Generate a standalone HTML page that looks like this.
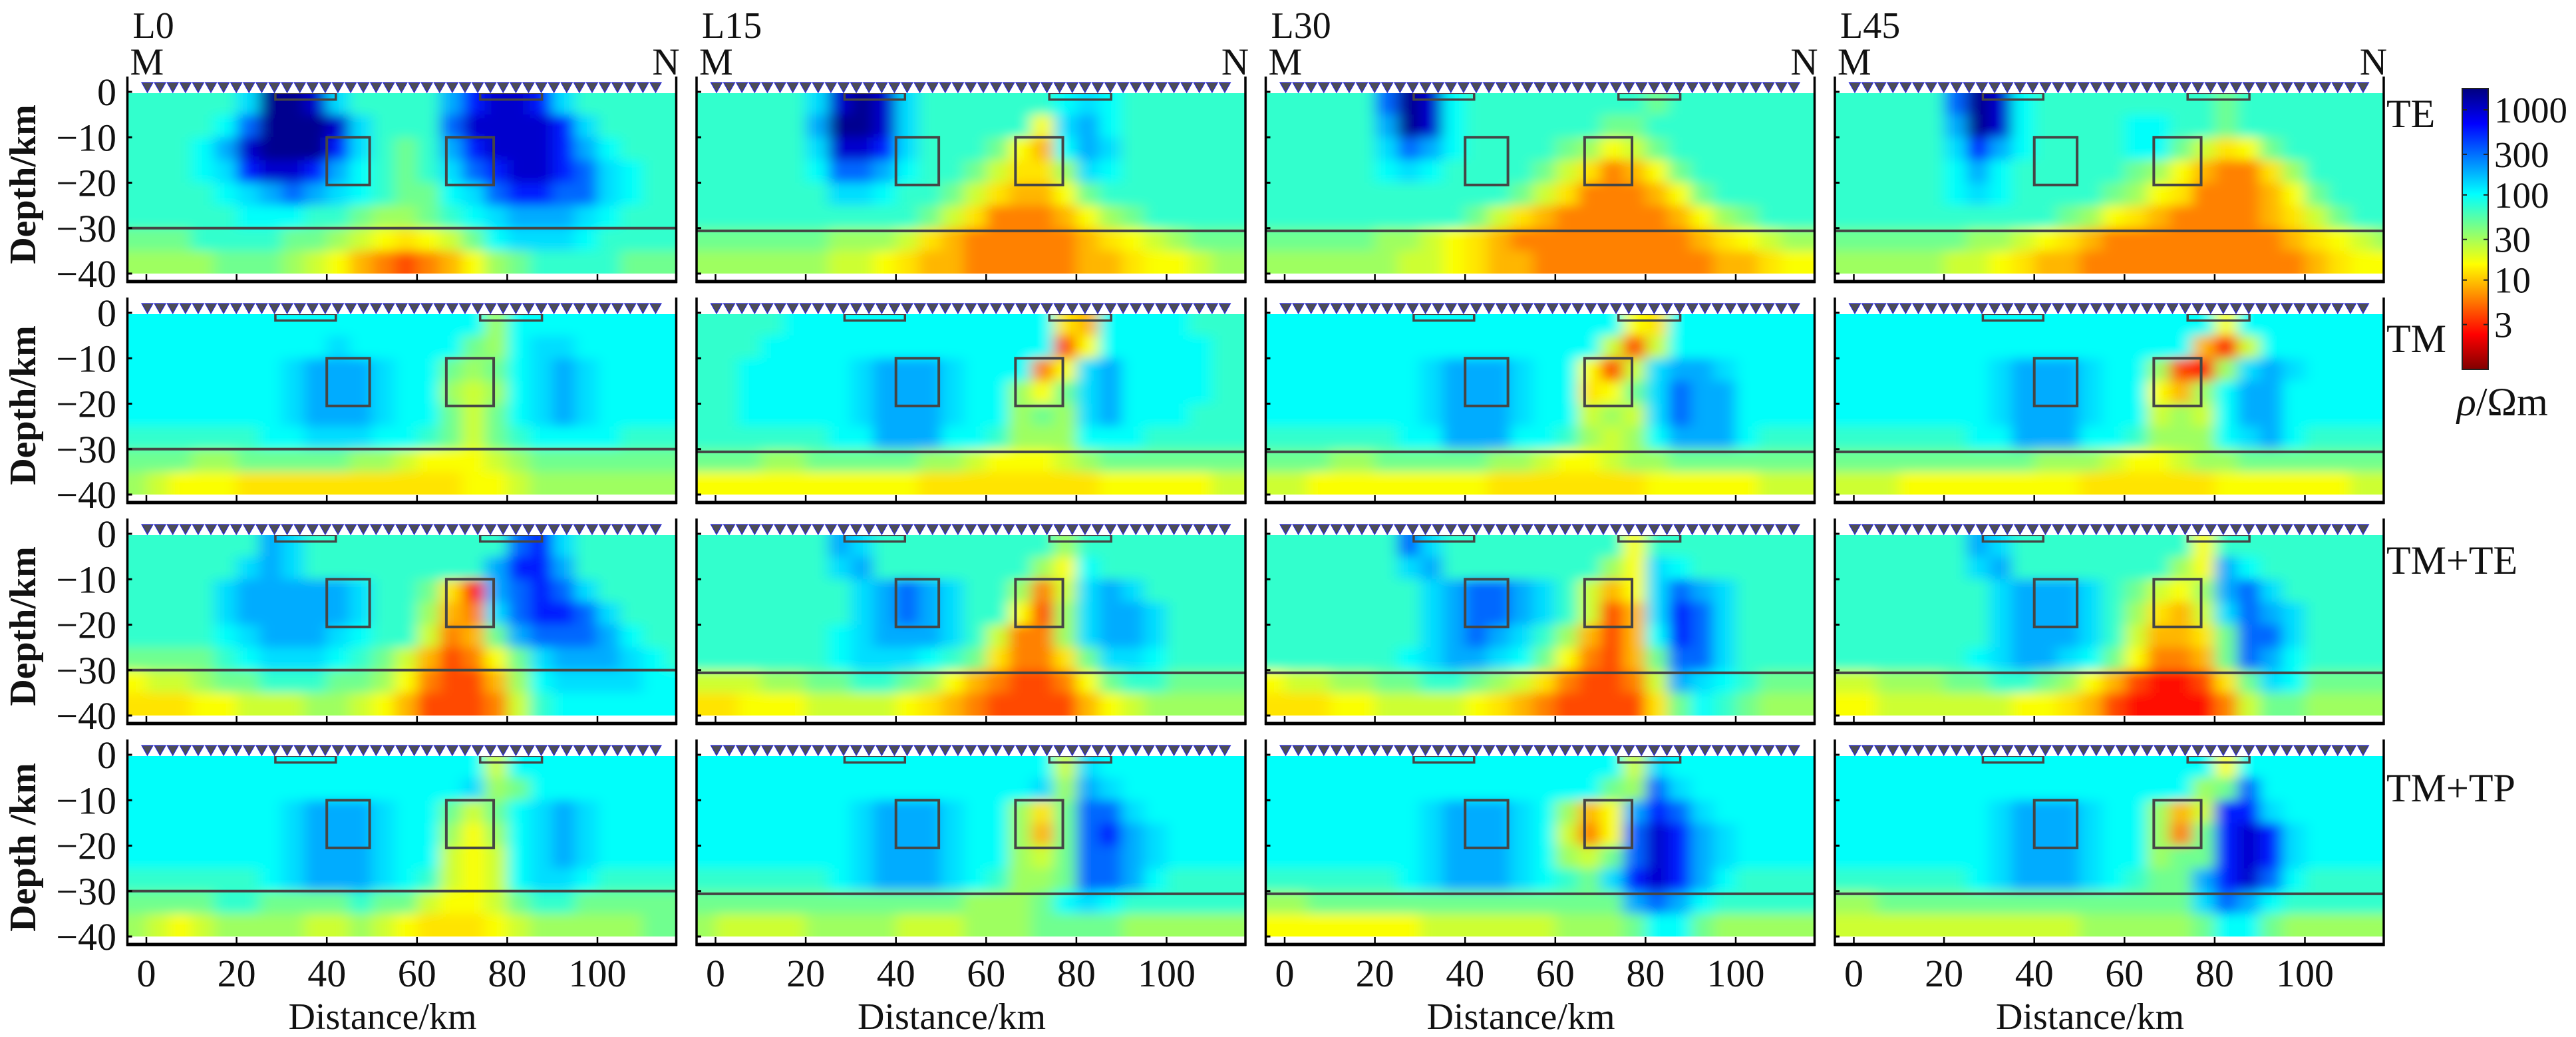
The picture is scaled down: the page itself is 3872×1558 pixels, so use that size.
<!DOCTYPE html>
<html>
<head>
<meta charset="utf-8">
<style>
  html,body{margin:0;padding:0;background:#fff;}
  svg{display:block;}
  text{font-family:"Liberation Serif","DejaVu Serif",serif;fill:#111;}
</style>
</head>
<body>
<svg id="fig" xmlns="http://www.w3.org/2000/svg" width="3872" height="1558" viewBox="0 0 3872 1558">
  <defs id="defs"></defs>
  <g id="panels"></g>
  <g id="labels"></g>
  <g id="cbar"></g>
</svg>
<script>
// ---- level code -> log10(resistivity) ----
const levelCodes = "0123456789abcdefgh";
const levelLog = [0.15,0.4,0.6,0.78,0.95,1.1,1.2,1.35,1.5,1.65,1.85,2.0,2.12,2.28,2.5,2.75,3.0,3.2];
// cell left edges (km) and cell top depths (km)
const cellXKm = [-5,0,5,10,15,20,25,30,35,40,45,50,55,60,65,70,75,80,85,90,95,100,105,110,115];
const cellDepthKm = [0,5,10,15,20,25,30,35];
const xTickVals = [0,20,40,60,80,100];
const yTickVals = [0,10,20,30,40];
const yTickLabels = ["0","\u221210","\u221220","\u221230","\u221240"];
const colTitles = ["L0","L15","L30","L45"];
const rowTitles = ["TE","TM","TM+TE","TM+TP"];
const cbarTicks = [3,2.477,2,1.477,1,0.477];
const cbarTickLabels = ["1000","300","100","30","10","3"];

// ---- panel data (rows = depth 0-40 km, 5 km each; chars = 25 columns, 5 km each) ----
const L0_TE = [
"aaaaachhgcaaaadfggfcaaaaa",
"aaaabehhhgcaaaeggggfcaaaa",
"aaabdghhhfca9adfgggfdbaaa",
"aaabcfggfdba9acefggfecbaa",
"aaaabcdedcba99bceffeecbaa",
"aaaaabbbaa9889abcdddcbaaa",
"999aaaa998765679bcccbaaaa",
"888899987643234689aaaa999"
];
const L15_TE = [
"aaaaacghgcaaaaaabcbaaaaaa",
"aaaaadhhgcaaaaa6cdbaaaaaa",
"aaaaacggfcaaa964bdcaaaaaa",
"aaaaabeedbaa97558cbaaaaaa",
"aaaaaaccbaa9754469aaaaaaa",
"aaaaaaaaaa9753334689aaaaa",
"9999998887543333345678999",
"8888887765443333344566788"
];
const L30_TE = [
"aaaaaehgbaaaaaaaa9aaaaaaa",
"aaaaadhgbaaaaaa99aaaaaaaa",
"aaaaacedbaaaa98679aaaaaaa",
"aaaaabcbaaaa9753469aaaaaa",
"aaaaaaaaaaa975333469aaaaa",
"aaaaaaaaa9754333334689aaa",
"9999988765433333333456788",
"8888887765443333333344566"
];
const L45_TE = [
"aaaaaehgbaaaaaaaa9aaaaaaa",
"aaaaadhgbaaaabbaa9aaaaaaa",
"aaaaacfdbaaaabb97569aaaaa",
"aaaaabdbaaaaa98643358aaaa",
"aaaaabcbaaaa9865333469aaa",
"aaaaaaaaaa9865433334579aa",
"9999998876543333333345678",
"8888877654433333333334566"
];
const L0_TM = [
"bbbbbbbbbbbbbbbb8bbbbbbbb",
"bbbbbbbbbcbbbbb98bccbbbbb",
"bbbbbbbcdddcbb989bcdcbbbb",
"bbbbbbbcdddcbb878bcdcbbbb",
"bbbbbbbcdddcbb979bcdcbbbb",
"aaaaaabbcccbba979abbbbaaa",
"9998899999887666789999999",
"8766655555555556678888888"
];
const L15_TM = [
"aaaabbbbbbbbbbbb54bbbbaaa",
"aaabbbbbbbbbbbbb26bbbbbaa",
"aabbbbbcdddcbbb36cdbbbbaa",
"aabbbbbcdddcbb869cdbbbbaa",
"aabbbbbcdddcbb898cdbbbaaa",
"aaaaaabbdddbba888bbbaaaaa",
"9998899999887666789999999",
"6666666666555555556666677"
];
const L30_TM = [
"bbbbbbbbbbbbbbbb65bbbbbbb",
"bbbbbbbbbbbbbbb727bbbbbbb",
"bbbbbbbcdddcbb627cddcbbbb",
"bbbbbbbcdddcbb569ceddbbbb",
"bbbbbbbcdddcbb787ceddbbbb",
"aaaaaabbdddbba878bdddbaaa",
"9998899999887667889999999",
"7766666666555555566666777"
];
const L45_TM = [
"bbbbbbbbbbbbbbbbb6bbbbbbb",
"bbbbbbbbbbbbbbbb417bbbbbb",
"bbbbbbbcdddcbb8218cdcbbbb",
"bbbbbbbcdddcbb648bddbbbbb",
"bbbbbbbcdddcbb787bddbbbbb",
"aaaaaabbdddbba888bcdbaaaa",
"9999999998887667889999999",
"7776666666655555566666677"
];
const L0_TMTE = [
"aaaaaadcaaaaaaaaaefcaaaaa",
"aaaaacdcaaaaaaaadffdaaaaa",
"aaaacdddddcaa951defecaaaa",
"aaaacdddddcaa843ceffecaaa",
"aaaabcdddcbaa7349deeedbaa",
"9999abcccba9742369cdddcba",
"677899aaa998632248bccccbb",
"555667778876422237abbbbbb"
];
const L15_TMTE = [
"aaaaaadcaaaaaaaa8aaaaaaaa",
"aaaaaacdaaaaaaa86baaaaaaa",
"aaaaaaacdedcaa837cdcaaaaa",
"aaaaaaacdedcaa628cddcaaaa",
"aaaaaabcdddca7338cddcaaaa",
"aaaaaabcccba953359ccbaaaa",
"7778899aa9864322369aa9999",
"5566677776543222246788888"
];
const L30_TMTE = [
"aaaaaaecaaaaaaaa6aaaaaaaa",
"aaaaaacdaaaaaaa86cbaaaaaa",
"aaaaaaacdeedca746cedcaaaa",
"aaaaaaacdeedca724cfecaaaa",
"aaaaaaacdedca8424bfecaaaa",
"aaaaaabcddcb963249eecaaaa",
"6778899aa987532237dcba999",
"5556677776543222259ba9888"
];
const L45_TMTE = [
"aaaaaadcaaaaaaaa6aaaaaaaa",
"aaaaaacdaaaaaaa86dbaaaaaa",
"aaaaaaacdddca9768decaaaaa",
"aaaaaaacdddca8547cedcaaaa",
"aaaaaaacdddca74459eecaaaa",
"aaaaaabcddcb963349edbaaaa",
"7788899aa9864211259cb9999",
"6677777766542111137998888"
];
const L0_TMTP = [
"bbbbbbbbbbbbbbbb7bbbbbbbb",
"bbbbbbbbbbbbbbbc89bbbbbbb",
"bbbbbbbcdddcbb979bcdcbbbb",
"bbbbbbbcdddcbb868bcdcbbbb",
"bbbbbbbcdddcbb767bcdcbbbb",
"aaaaaabcdddcba767bccbaaaa",
"9999aa9999a9976679aa99999",
"8767888877876555678888899"
];
const L15_TMTP = [
"bbbbbbbbbbbbbbbb7cbbbbbbb",
"bbbbbbbbbbbbbbbc8dcbbbbbb",
"bbbbbbbcdddcbb859eecbbbbb",
"bbbbbbbcdddcbb849efdcbbbb",
"bbbbbbbcdddcbb879eedcbbbb",
"aaaaaabcdddcba889eedbaaaa",
"9999999999998889bcbaaaaaa",
"8777788887778889999888888"
];
const L30_TMTP = [
"bbbbbbbbbbbbbbbb7cbbbbbbb",
"bbbbbbbbbbbbbbb98ecbbbbbb",
"bbbbbbbcdddcb846dfecbbbbb",
"bbbbbbbcdddcb736egfdcbbbb",
"bbbbbbbcdddcb879egfdcbbbb",
"aaaaaabcdddcba9cfgfdbaaaa",
"8899999999999999dedbaaaaa",
"66666667777778889bb988888"
];
const L45_TMTP = [
"bbbbbbbbbbbbbbbbb6bbbbbbb",
"bbbbbbbbbbbbbbbb89ebbbbbb",
"bbbbbbbcdddcbb847ffcbbbbb",
"bbbbbbbcdddcbb839fgfcbbbb",
"bbbbbbbcdddcbb899fgfcbbbb",
"aaaaaabcdddcba99dfgebaaaa",
"8899999999999999cedbaaaaa",
"77777777777888889bb988888"
];
const PANELS = [
  [L0_TE, L15_TE, L30_TE, L45_TE],
  [L0_TM, L15_TM, L30_TM, L45_TM],
  [L0_TMTE, L15_TMTE, L30_TMTE, L45_TMTE],
  [L0_TMTP, L15_TMTP, L30_TMTP, L45_TMTP]
];

// ---- helpers ----
const NS = "http://www.w3.org/2000/svg";
function mk(tag, attrs, parent){
  const e = document.createElementNS(NS, tag);
  for (const k in attrs) e.setAttribute(k, attrs[k]);
  if (parent) parent.appendChild(e);
  return e;
}
function clamp(v){ return Math.max(0, Math.min(1, v)); }
function jetColor(logv){
  const t = clamp((3.25 - logv) / 3.3);
  const r = clamp(1.5 - Math.abs(4*t - 3));
  const g = clamp(1.5 - Math.abs(4*t - 2));
  const b = clamp(1.5 - Math.abs(4*t - 1));
  return "rgb(" + Math.round(r*255) + "," + Math.round(g*255) + "," + Math.round(b*255) + ")";
}
function codeLog(ch){
  const i = levelCodes.indexOf(ch);
  return levelLog[i < 0 ? 10 : i];
}

const defs = document.getElementById("defs");
const panelsG = document.getElementById("panels");
const labelsG = document.getElementById("labels");
const cbarG = document.getElementById("cbar");

const blur = mk("filter", {id:"smooth", x:"-10%", y:"-10%", width:"120%", height:"120%"}, defs);
mk("feGaussianBlur", {stdDeviation:"11 8"}, blur);

const COL_DX = 855.5, ROW_DY = 332;
const SX = 6.78, SY = 6.825;
const PANEL_W = 825;

for (let r = 0; r < 4; r++) {
  for (let c = 0; c < 4; c++) {
    const data = PANELS[r][c];
    const axL = 191.5 + COL_DX*c;
    const axR = axL + PANEL_W;
    const x0 = 220 + COL_DX*c;
    const y0 = 138 + ROW_DY*r;
    const xs = km => x0 + km*SX;
    const ys = d => y0 + d*SY;
    const dataTop = y0 + 2, dataBot = ys(40);

    const g = mk("g", {}, panelsG);
    
    

    const cpId = "clip" + r + "_" + c;
    const cp = mk("clipPath", {id: cpId}, defs);
    mk("rect", {x: axL, y: dataTop, width: PANEL_W, height: dataBot - dataTop}, cp);

    const clipG = mk("g", {"clip-path": "url(#" + cpId + ")"}, g);
    const heat = mk("g", {filter: "url(#smooth)"}, clipG);
    
    
    for (let i = 0; i < cellDepthKm.length; i++) {
      const row = data[i];
      let dTop = cellDepthKm[i], dBot = dTop + 5;
      if (i === 0) dTop = -8;
      if (i === cellDepthKm.length - 1) dBot = 48;
      for (let j = 0; j < cellXKm.length; j++) {
        let kL = cellXKm[j], kR = kL + 5;
        if (j === 0) kL = -20;
        if (j === cellXKm.length - 1) kR = 135;
        const cell = mk("rect", {
          x: xs(kL), y: ys(dTop), width: (xs(kR) - xs(kL)) + 0.6, height: (ys(dBot) - ys(dTop)) + 0.6,
          fill: jetColor(codeLog(row[j]))
        }, heat);
        
        
      }
    }
    // interface line
    const lineD = c === 0 ? 30 : 30.6;
    const hl = mk("line", {x1: axL, x2: axR, y1: ys(lineD), y2: ys(lineD), stroke: "#444", "stroke-width": 4}, clipG);
    
    
    // anomaly boxes
    const boxes = [[40,49.5,10,20.5],[66.5,77,10,20.5],[28.6,42,0.2,1.7],[74,87.7,0.2,1.7]];
    boxes.forEach((b, bi) => {
      const bx = mk("rect", {x: xs(b[0]), y: ys(b[2]), width: xs(b[1]) - xs(b[0]), height: ys(b[3]) - ys(b[2]),
        fill: "none", stroke: "#454545", "stroke-width": bi < 2 ? 4 : 3.5}, clipG);
      
      
    });
    // stations
    const st = mk("g", {}, g);
    
    
    for (let k = 0; k < 41; k++) {
      const cx = xs(0.22 + 2.817*k);
      const tri = mk("polygon", {points: (cx-8.5)+","+(y0-14)+" "+(cx+8.5)+","+(y0-14)+" "+cx+","+(y0+1),
        fill: "#4d4d55", stroke: "#2a2ad8", "stroke-width": 1.2}, st);
      
      
    }
    // axes
    const ax = mk("g", {stroke: "#000"}, g);
    
    
    const axTop = 115 + ROW_DY*r, axBot = 423 + ROW_DY*r;
    mk("line", {x1: axL, x2: axL, y1: axTop, y2: axBot + 2, "stroke-width": 3.5}, ax);
    mk("line", {x1: axR, x2: axR, y1: axTop, y2: axBot + 2, "stroke-width": 3.5}, ax);
    mk("line", {x1: axL - 1.5, x2: axR + 1.5, y1: axBot, y2: axBot, "stroke-width": 5}, ax);
    xTickVals.forEach(v => {
      const t = mk("line", {x1: xs(v), x2: xs(v), y1: axBot, y2: axBot - 11, "stroke-width": 2.5}, ax);
      
      
    });
    yTickVals.forEach((v, i) => {
      const t = mk("line", {x1: axL, x2: axL + 7, y1: ys(v), y2: ys(v), "stroke-width": 3}, ax);
      
      
      if (c === 0) {
        const lab = mk("text", {x: 175, y: ys(v) + 20, "font-size": 58, "text-anchor": "end"}, labelsG);
        lab.textContent = yTickLabels[i];
        
        
      }
    });
    if (r === 3) {
      xTickVals.forEach(v => {
        const lab = mk("text", {x: xs(v), y: 1482, "font-size": 58, "text-anchor": "middle"}, labelsG);
        lab.textContent = String(v);
        
        
      });
      const xt = mk("text", {x: 575 + COL_DX*c, y: 1546, "font-size": 56, "text-anchor": "middle"}, labelsG);
      xt.textContent = "Distance/km";
      
      
    }
    if (r === 0) {
      const tl = mk("text", {x: axL + 8, y: 57, "font-size": 56}, labelsG);
      tl.textContent = colTitles[c];
      
      
      const m = mk("text", {x: axL + 4, y: 112, "font-size": 57}, labelsG);
      m.textContent = "M";
      
      
      const n = mk("text", {x: axR + 5, y: 112, "font-size": 57, "text-anchor": "end"}, labelsG);
      n.textContent = "N";
      
      
    }
    if (c === 0) {
      const cy = y0 + 139;
      const yt = mk("text", {x: 0, y: 0, "font-size": 56, "font-weight": "bold", "text-anchor": "middle",
        transform: "translate(53," + cy + ") rotate(-90)"}, labelsG);
      yt.textContent = r === 3 ? "Depth /km" : "Depth/km";
      
      
    }
  }
}

// row titles
const rowBase = [191, 529, 862, 1204];
rowTitles.forEach((t, i) => {
  const e = mk("text", {x: 3587, y: rowBase[i], "font-size": 60}, labelsG);
  e.textContent = t;
  
  
});

// colorbar
const cbX = 3701, cbY = 133, cbW = 39, cbH = 422;
const grad = mk("linearGradient", {id: "jetgrad", x1: 0, y1: 0, x2: 0, y2: 1}, defs);
for (let k = 0; k <= 40; k++) {
  const f = k / 40;
  mk("stop", {offset: f, "stop-color": jetColor(3.25 - f*3.3)}, grad);
}
const cbRect = mk("rect", {x: cbX, y: cbY, width: cbW, height: cbH, fill: "url(#jetgrad)", stroke: "#222", "stroke-width": 2}, cbarG);


cbarTicks.forEach((lv, i) => {
  const y = cbY + (3.25 - lv) / 3.3 * cbH;
  mk("line", {x1: cbX, x2: cbX + 7, y1: y, y2: y, stroke: "#222", "stroke-width": 2}, cbarG);
  mk("line", {x1: cbX + cbW - 7, x2: cbX + cbW, y1: y, y2: y, stroke: "#222", "stroke-width": 2}, cbarG);
  const lab = mk("text", {x: 3749, y: y + 19, "font-size": 55}, cbarG);
  lab.textContent = cbarTickLabels[i];
  
  
});
const unit = mk("text", {x: 3693, y: 624, "font-size": 60}, cbarG);
unit.innerHTML = '<tspan font-style="italic">\u03C1</tspan>/\u03A9m';


</script>
</body>
</html>
